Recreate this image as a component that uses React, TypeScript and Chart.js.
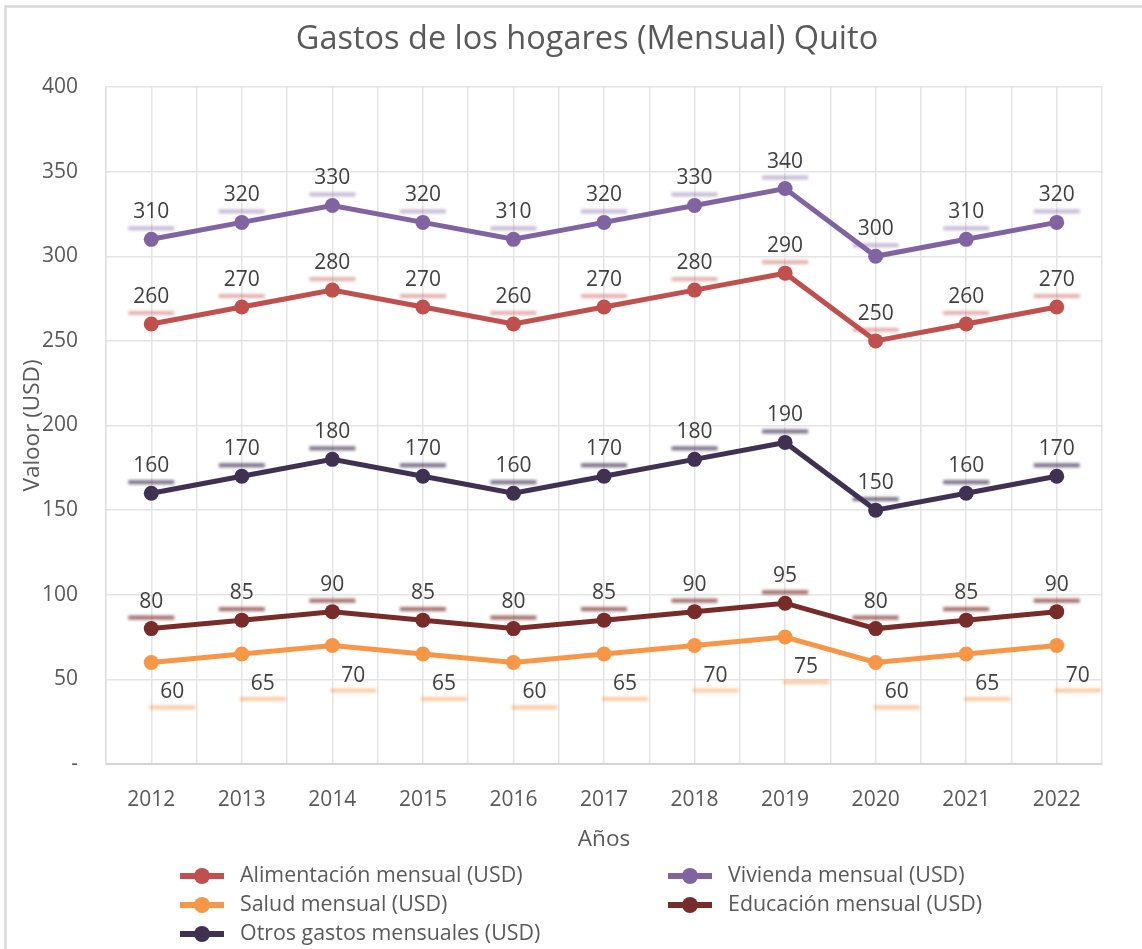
import React, { useEffect, useRef } from "react";
import { Chart, registerables } from "chart.js";

Chart.register(...registerables);

const years = ["2012", "2013", "2014", "2015", "2016", "2017", "2018", "2019", "2020", "2021", "2022"];
const alimentacion = [260, 270, 280, 270, 260, 270, 280, 290, 250, 260, 270];
const vivienda = [310, 320, 330, 320, 310, 320, 330, 340, 300, 310, 320];
const salud = [60, 65, 70, 65, 60, 65, 70, 75, 60, 65, 70];
const educacion = [80, 85, 90, 85, 80, 85, 90, 95, 80, 85, 90];
const otros = [160, 170, 180, 170, 160, 170, 180, 190, 150, 160, 170];

const seriesNames = [
  "Alimentación mensual (USD)",
  "Vivienda mensual (USD)",
  "Salud mensual (USD)",
  "Educación mensual (USD)",
  "Otros gastos mensuales (USD)",
];
const seriesColors = ["#C0504D", "#8064A2", "#F79646", "#772C2A", "#403152"];
const seriesValues = [alimentacion, vivienda, salud, educacion, otros];
const labelBelow = [false, false, true, false, false];

const titleText = "Gastos de los hogares (Mensual) Quito";
const yTitle = "Valoor (USD)";
const xTitle = "Años";

const FONT = "'Open Sans', 'Noto Sans', sans-serif";
const TEXT = "#595959";

function hexA(hex: string, a: number) {
  const r = parseInt(hex.slice(1, 3), 16);
  const g = parseInt(hex.slice(3, 5), 16);
  const b = parseInt(hex.slice(5, 7), 16);
  return `rgba(${r},${g},${b},${a})`;
}

const decorPlugin = {
  id: "decor",
  beforeDraw(chart: any) {
    const ctx = chart.ctx;
    ctx.save();
    ctx.fillStyle = "#ffffff";
    ctx.fillRect(0, 0, chart.width, chart.height);
    ctx.strokeStyle = "#D9D9D9";
    ctx.lineWidth = 2.5;
    ctx.strokeRect(5.5, 6.5, chart.width + 50, chart.height + 50);
    ctx.fillStyle = TEXT;
    ctx.font = `32.5px ${FONT}`;
    ctx.textAlign = "center";
    ctx.textBaseline = "middle";
    ctx.fillText(titleText, 587, 40);
    ctx.restore();
  },
  afterDatasetsDraw(chart: any) {
    const ctx = chart.ctx;
    chart.data.datasets.forEach((ds: any, di: number) => {
      const meta = chart.getDatasetMeta(di);
      const below = labelBelow[di];
      const dx = below ? 21 : 0;
      const ty = below ? 30 : -27;
      const uy = below ? 45 : -11;
      meta.data.forEach((pt: any, i: number) => {
        const x = pt.x + dx;
        const y = pt.y;
        ctx.save();
        ctx.filter = "blur(1.8px)";
        ctx.fillStyle = hexA(seriesColors[di], below ? 0.5 : di >= 3 ? 0.7 : 0.45);
        ctx.fillRect(x - 23, y + uy - 2, 46, 4);
        ctx.restore();
        ctx.save();
        ctx.fillStyle = "#404040";
        ctx.font = `21px ${FONT}`;
        ctx.textAlign = "center";
        ctx.textBaseline = "middle";
        ctx.fillText(String(ds.data[i].y), x, y + ty);
        ctx.restore();
      });
    });
  },
  afterDraw(chart: any) {
    const ctx = chart.ctx;
    const cols = [180, 668];
    const rows = [876, 905, 934];
    ctx.save();
    seriesNames.forEach((name, i) => {
      const x = cols[i % 2];
      const y = rows[Math.floor(i / 2)];
      ctx.strokeStyle = seriesColors[i];
      ctx.lineWidth = 6;
      ctx.beginPath();
      ctx.moveTo(x, y);
      ctx.lineTo(x + 44, y);
      ctx.stroke();
      ctx.fillStyle = seriesColors[i];
      ctx.beginPath();
      ctx.arc(x + 22, y, 8, 0, Math.PI * 2);
      ctx.fill();
      ctx.fillStyle = TEXT;
      ctx.font = `21.4px ${FONT}`;
      ctx.textAlign = "left";
      ctx.textBaseline = "middle";
      ctx.fillText(name, x + 60, y);
    });
    ctx.restore();
  },
};

export default function App() {
  const ref = useRef<HTMLCanvasElement>(null);
  useEffect(() => {
    if (!ref.current) return;
    const chart = new Chart(ref.current, {
      type: "line",
      data: {
        datasets: seriesValues.map((vals, si) => ({
          label: seriesNames[si],
          data: vals.map((v, i) => ({ x: i, y: v })),
          borderColor: seriesColors[si],
          backgroundColor: seriesColors[si],
          borderWidth: 5,
          pointRadius: 7.5,
          pointHoverRadius: 7.5,
          pointBackgroundColor: seriesColors[si],
          pointBorderWidth: 0,
          tension: 0,
        })),
      },
      options: {
        responsive: false,
        animation: false,
        layout: { padding: { left: 0, right: 40, top: 87, bottom: 85 } },
        plugins: {
          legend: { display: false },
          title: { display: false },
          tooltip: { enabled: false },
        },
        scales: {
          x: {
            type: "linear",
            min: -0.5,
            max: 10.5,
            afterFit(scale: any) {
              scale.height = 100;
            },
            ticks: {
              stepSize: 0.5,
              autoSkip: false,
              maxRotation: 0,
              padding: 23,
              color: TEXT,
              font: { family: FONT, size: 21 },
              callback(v: any) {
                const n = Number(v);
                return Number.isInteger(n) && n >= 0 && n < years.length ? years[n] : "";
              },
            },
            grid: { color: "#E4E4E4", lineWidth: 1.5, drawTicks: false },
            border: { color: "#D4D4D4", width: 2 },
            title: {
              display: true,
              text: xTitle,
              color: TEXT,
              font: { family: FONT, size: 22.5 },
              padding: { top: 0, bottom: 11 },
            },
          },
          y: {
            min: 0,
            max: 400,
            afterFit(scale: any) {
              scale.width = 106;
            },
            ticks: {
              stepSize: 50,
              padding: 28,
              color: TEXT,
              font: { family: FONT, size: 21 },
              callback(v: any) {
                return Number(v) === 0 ? "-" : String(v);
              },
            },
            grid: { color: "#E4E4E4", lineWidth: 1.5, drawTicks: false },
            border: { color: "#E0E0E0", width: 1.5 },
            title: {
              display: true,
              text: yTitle,
              color: TEXT,
              font: { family: FONT, size: 22.5 },
              padding: { top: 19, bottom: 0 },
            },
          },
        },
      },
      plugins: [decorPlugin],
    } as any);
    return () => chart.destroy();
  }, []);
  return (
    <div style={{ position: "absolute", left: 0, top: 0, width: 1142, height: 949 }}>
      <canvas ref={ref} width={1142} height={949} style={{ display: "block" }} />
    </div>
  );
}
